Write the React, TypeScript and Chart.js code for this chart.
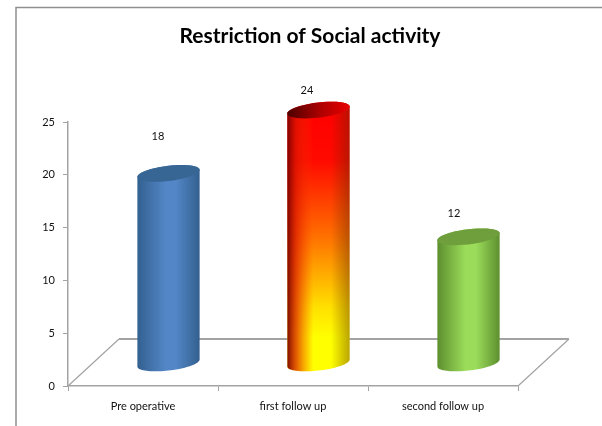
import React, { useEffect, useRef } from "react";
import { Chart, registerables } from "chart.js";

Chart.register(...registerables);

const chartTitle = "Restriction of Social activity";
const categories = ["Pre operative", "first follow up", "second follow up"];
const counts = [18, 24, 12];
const yTicks = [0, 5, 10, 15, 20, 25];

// How far each value label sits above its bar's value position.
const labelLift = [59, 42, 46];
const labelShiftX = [15, 14, 11];

const bluePalette = { edge: "#33608f", mid: "#5286c6", cap: "#386694" };
const greenPalette = { edge: "#5d8f2f", mid: "#9bdc5a", cap: "#6f9f3c" };

const AXIS_GREY = "#a3a3a3";
const TEXT = "#111111";
const FONT_FAMILY = "Lato, 'Liberation Sans', sans-serif";

// Offset of the bars from the axis plane, and depth of the floor.
const BAR_DX = 25.5;
const BAR_DY = 22.5;
const FLOOR_DX = 51;
const FLOOR_DY = 47;
const ELLIPSE_H = 7.6;
const ELLIPSE_SKEW = 3.5;

function ellipseArc(ctx: CanvasRenderingContext2D, cx: number, cy: number, w: number, from: number, to: number) {
  const steps = 40;
  for (let i = 0; i <= steps; i++) {
    const t = from + ((to - from) * i) / steps;
    const px = cx + w * Math.cos(t);
    const py = cy + ELLIPSE_H * Math.sin(t) - ELLIPSE_SKEW * Math.cos(t);
    ctx.lineTo(px, py);
  }
}

function cylinderOutline(ctx: CanvasRenderingContext2D, cx: number, top: number, bottom: number, w: number) {
  ctx.beginPath();
  ellipseArc(ctx, cx, top, w, Math.PI, 2 * Math.PI);
  ellipseArc(ctx, cx, bottom, w, 0, Math.PI);
  ctx.closePath();
}

function capOutline(ctx: CanvasRenderingContext2D, cx: number, top: number, w: number) {
  ctx.beginPath();
  ellipseArc(ctx, cx, top, w, 0, 2 * Math.PI);
  ctx.closePath();
}

function drawPlainCylinder(ctx: CanvasRenderingContext2D, cx: number, top: number, bottom: number, w: number, p: typeof bluePalette) {
  const g = ctx.createLinearGradient(cx - w, 0, cx + w, 0);
  g.addColorStop(0, p.edge);
  g.addColorStop(0.45, p.mid);
  g.addColorStop(0.62, p.mid);
  g.addColorStop(1, p.edge);
  cylinderOutline(ctx, cx, top, bottom, w);
  ctx.fillStyle = g;
  ctx.fill();
  capOutline(ctx, cx, top, w);
  ctx.fillStyle = p.cap;
  ctx.fill();
}

function drawFlameCylinder(ctx: CanvasRenderingContext2D, cx: number, top: number, bottom: number, w: number) {
  const v = ctx.createLinearGradient(0, top, 0, bottom);
  v.addColorStop(0, "#ff0000");
  v.addColorStop(0.2, "#ff0a00");
  v.addColorStop(0.5, "#ff7000");
  v.addColorStop(0.78, "#ffe000");
  v.addColorStop(0.9, "#ffff00");
  v.addColorStop(1, "#ffff00");
  cylinderOutline(ctx, cx, top, bottom, w);
  ctx.fillStyle = v;
  ctx.fill();

  const h = ctx.createLinearGradient(cx - w, 0, cx + w, 0);
  h.addColorStop(0, "rgba(120,0,0,0.95)");
  h.addColorStop(0.14, "rgba(215,20,0,0.7)");
  h.addColorStop(0.42, "rgba(255,60,0,0)");
  h.addColorStop(0.7, "rgba(90,40,0,0)");
  h.addColorStop(1, "rgba(90,40,0,0.42)");
  ctx.fillStyle = h;
  ctx.fill();

  const c = ctx.createLinearGradient(cx - w, 0, cx + w, 0);
  c.addColorStop(0, "#4c0000");
  c.addColorStop(0.55, "#b00000");
  c.addColorStop(1, "#e80000");
  capOutline(ctx, cx, top, w);
  ctx.fillStyle = c;
  ctx.fill();
}

const sceneryPlugin = {
  id: "scenery",
  beforeDraw(chart: Chart) {
    // Outer frame of the chart, open towards the right and bottom edges.
    const { ctx, width, height } = chart;
    ctx.save();
    ctx.strokeStyle = "#8f8f8f";
    ctx.lineWidth = 1.5;
    ctx.beginPath();
    ctx.moveTo(16, height);
    ctx.lineTo(16, 7.5);
    ctx.lineTo(width, 7.5);
    ctx.stroke();
    ctx.restore();
  },
  beforeDatasetsDraw(chart: Chart) {
    // Floor of the 3D plot, behind the bars.
    const { ctx, chartArea: a } = chart;
    ctx.save();
    ctx.strokeStyle = AXIS_GREY;
    ctx.lineWidth = 1.2;
    ctx.beginPath();
    ctx.moveTo(a.left, a.bottom);
    ctx.lineTo(a.left + FLOOR_DX, a.bottom - FLOOR_DY);
    ctx.moveTo(a.right + FLOOR_DX, a.bottom - FLOOR_DY);
    ctx.lineTo(a.right, a.bottom);
    ctx.stroke();
    ctx.lineWidth = 1.8;
    ctx.beginPath();
    ctx.moveTo(a.left + FLOOR_DX, a.bottom - FLOOR_DY);
    ctx.lineTo(a.right + FLOOR_DX, a.bottom - FLOOR_DY);
    ctx.stroke();
    ctx.restore();
  },
  afterDatasetsDraw(chart: Chart) {
    const { ctx } = chart;
    const bars = chart.getDatasetMeta(0).data as any[];
    ctx.save();
    bars.forEach((bar, i) => {
      const cx = bar.x + BAR_DX;
      const top = bar.y - BAR_DY;
      const bottom = bar.base - BAR_DY;
      const w = bar.width / 2;
      if (i === 1) drawFlameCylinder(ctx, cx, top, bottom, w);
      else drawPlainCylinder(ctx, cx, top, bottom, w, i === 0 ? bluePalette : greenPalette);

      ctx.fillStyle = TEXT;
      ctx.font = `11px ${FONT_FAMILY}`;
      ctx.textAlign = "center";
      ctx.textBaseline = "middle";
      ctx.fillText(String(counts[i]), bar.x + labelShiftX[i], bar.y - labelLift[i]);
    });
    ctx.restore();
  },
};

export default function App() {
  const ref = useRef<HTMLCanvasElement>(null);

  useEffect(() => {
    if (!ref.current) return;
    const chart = new Chart(ref.current, {
      type: "bar",
      data: {
        labels: categories,
        datasets: [
          {
            data: counts,
            backgroundColor: "transparent",
            barPercentage: 0.415,
            categoryPercentage: 1,
          },
        ],
      },
      options: {
        animation: false,
        responsive: false,
        layout: { padding: { left: 18, right: 0, top: 0, bottom: 0 } },
        plugins: {
          legend: { display: false },
          tooltip: { enabled: false },
          title: {
            display: true,
            text: chartTitle,
            color: "#000000",
            font: { family: FONT_FAMILY, size: 21, weight: "bold", lineHeight: 1.2 },
            padding: { top: 24, bottom: 72.8 },
          },
        },
        scales: {
          x: {
            grid: { drawOnChartArea: false, color: AXIS_GREY, tickLength: 5 },
            border: { color: AXIS_GREY, width: 1.5 },
            ticks: { color: TEXT, font: { family: FONT_FAMILY, size: 11 }, padding: 9, maxRotation: 0 },
            afterFit: (s: any) => { s.height = 40; },
          },
          y: {
            min: 0,
            max: 25,
            afterBuildTicks: (s: any) => { s.ticks = yTicks.map((value) => ({ value })); },
            grid: { drawOnChartArea: false, color: AXIS_GREY, tickLength: 5 },
            border: { color: AXIS_GREY, width: 1.5 },
            ticks: { color: TEXT, font: { family: FONT_FAMILY, size: 11 }, padding: 8 },
            afterFit: (s: any) => { s.width = 50; },
          },
          // Empty right-hand gutter that keeps the title centred in the frame.
          gutter: {
            position: "right",
            display: true,
            grid: { display: false },
            border: { display: false },
            ticks: { display: false },
            afterFit: (s: any) => { s.width = 84; },
          },
        },
      } as any,
      plugins: [sceneryPlugin as any],
    });
    return () => chart.destroy();
  }, []);

  return (
    <canvas
      ref={ref}
      width={602}
      height={426}
      style={{ position: "fixed", left: 0, top: 0, width: 602, height: 426, background: "#ffffff" }}
    />
  );
}
